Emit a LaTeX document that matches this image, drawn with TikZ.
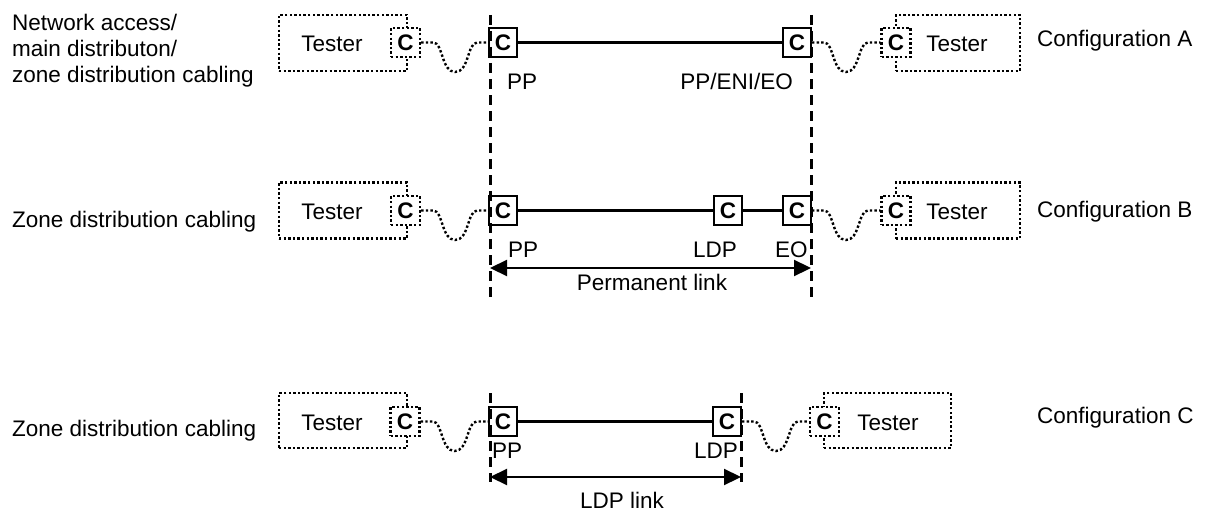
\documentclass[tikz,border=0pt]{standalone}
\usepackage{fontspec}
\setmainfont{Liberation Sans}
\usetikzlibrary{arrows.meta}
\begin{document}
\begin{tikzpicture}[x=1pt,y=-1pt,
  every node/.style={font=\fontsize{22.5}{25.5}\selectfont, inner sep=0pt},
  dots/.style={line width=2.4pt, dash pattern=on 2.4pt off 2.2pt},
  tbox/.style={draw, dots, minimum height=56, fill=white},
  cdot/.style={draw, dots, fill=white, minimum width=29, minimum height=29, font=\fontsize{22.5}{25.5}\selectfont\bfseries},
  csol/.style={draw, line width=2pt, fill=white, minimum width=28, minimum height=29, font=\fontsize{22.5}{25.5}\selectfont\bfseries},
  wire/.style={line width=2.2pt},
  vdash/.style={line width=3pt, dash pattern=on 10pt off 6pt},
  dim/.style={line width=2.2pt, {Triangle[length=17pt,width=16pt]}-{Triangle[length=17pt,width=16pt]}},
  txt/.style={anchor=base west},
  cable/.style={dots, to path={-- ++(12,0) .. controls +(10,0) and +(-14,0) .. ++(22,29.5) .. controls +(14,0) and +(-10,0) .. ++(22,-29.5) -- (\tikztotarget)}}
]
\useasboundingbox (0,0) rectangle (1207,511);

% ---------- reference (dashed) lines ----------
\coordinate (dL1t) at (490,15);  \coordinate (dL1b) at (490,298);
\coordinate (dR1t) at (811,15);  \coordinate (dR1b) at (811,298);
\coordinate (dL2t) at (490,393); \coordinate (dL2b) at (490,482);
\coordinate (dR2t) at (741,393); \coordinate (dR2b) at (741,482);

% ---------- Configuration A ----------
\node[tbox, minimum width=128] (tA1) at (343,43) {};
\node[anchor=base] (tA1t) at (332,51.5) {Tester};
\node[cdot] (cA1) at (405.5,42.5) {C};
\node[tbox, minimum width=124] (tA2) at (958,43) {};
\node[anchor=base] (tA2t) at (957,51.5) {Tester};
\node[cdot] (cA2) at (896,42.5) {C};
\node[csol] (pA1) at (503,42.5) {C};
\node[csol] (pA2) at (797,42.5) {C};
\draw[wire] (pA1.east) -- (pA2.west);
\draw[cable] (cA1.east) to (pA1.west);
\draw[cable] (pA2.east) to (cA2.west);
\node[txt] (lA1) at (507,89.5) {PP};
\node[anchor=base east] (lA2) at (793,89.5) {PP/ENI/EO};
\node[txt] (nA1) at (12,31) {Network access/};
\node[txt] (nA2) at (12,57) {main distributon/};
\node[txt] (nA3) at (12,82.5) {zone distribution cabling};
\node[txt] (cfA) at (1037,47) {Configuration A};

% ---------- Configuration B ----------
\node[tbox, minimum width=128] (tB1) at (343,210.5) {};
\node[anchor=base] (tB1t) at (332,219) {Tester};
\node[cdot] (cB1) at (405.5,210.5) {C};
\node[tbox, minimum width=124] (tB2) at (958,210.5) {};
\node[anchor=base] (tB2t) at (957,219) {Tester};
\node[cdot] (cB2) at (896,210.5) {C};
\node[csol] (pB1) at (503,210.5) {C};
\node[csol] (pB2) at (728,210.5) {C};
\node[csol] (pB3) at (797,210.5) {C};
\draw[wire] (pB1.east) -- (pB2.west);
\draw[wire] (pB2.east) -- (pB3.west);
\draw[cable] (cB1.east) to (pB1.west);
\draw[cable] (pB3.east) to (cB2.west);
\node[txt] (lB1) at (508,257) {PP};
\node[txt] (lB2) at (693,257) {LDP};
\node[txt] (lB3) at (775,257) {EO};
\coordinate (aB1) at (490,268); \coordinate (aB2) at (811,268);
\draw[dim] (aB1) -- (aB2);
\node[anchor=base] (plink) at (652,290) {Permanent link};
\node[txt] (nB) at (12,227) {Zone distribution cabling};
\node[txt] (cfB) at (1037,217.5) {Configuration B};

% ---------- Configuration C ----------
\node[tbox, minimum width=128, minimum height=55] (tC1) at (343,420.5) {};
\node[anchor=base] (tC1t) at (332,430) {Tester};
\node[cdot] (cC1) at (405,421.5) {C};
\node[tbox, minimum width=127, minimum height=55] (tC2) at (887.5,420.5) {};
\node[anchor=base] (tC2t) at (888,430) {Tester};
\node[cdot] (cC2) at (824.5,421.5) {C};
\node[csol] (pC1) at (503,421.5) {C};
\node[csol] (pC2) at (727,421.5) {C};
\draw[wire] (pC1.east) -- (pC2.west);
\draw[cable] (cC1.east) to (pC1.west);
\draw[cable] (pC2.east) to (cC2.west);
\node[txt] (lC1) at (492,458) {PP};
\node[anchor=base east] (lC2) at (738,458) {LDP};
\coordinate (aC1) at (490,477); \coordinate (aC2) at (741,477);
\draw[dim] (aC1) -- (aC2);
\node[anchor=base] (llink) at (622,508) {LDP link};
\node[txt] (nC) at (12,436) {Zone distribution cabling};
\node[txt] (cfC) at (1037,423.5) {Configuration C};

% dashed reference lines on top
\draw[vdash] (dL1t) -- (dL1b);
\draw[vdash] (dR1t) -- (dR1b);
\draw[vdash] (dL2t) -- (dL2b);
\draw[vdash] (dR2t) -- (dR2b);
\end{tikzpicture}
\end{document}
